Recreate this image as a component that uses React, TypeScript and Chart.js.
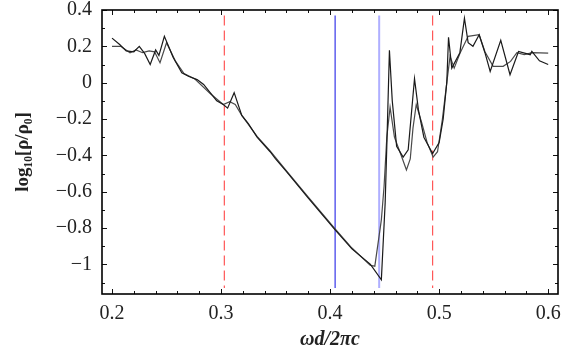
import React, { useEffect, useRef } from "react";
import { Chart, registerables } from "chart.js";

Chart.register(...registerables);

// Curve A (darker trace)
const aX = [0.2, 0.207, 0.213, 0.22, 0.225, 0.23, 0.235, 0.24, 0.243, 0.248, 0.256, 0.264, 0.27, 0.278, 0.284, 0.29, 0.296, 0.302, 0.306, 0.312, 0.319, 0.325, 0.333, 0.345, 0.35, 0.36, 0.38, 0.4046, 0.42, 0.437, 0.447, 0.4505, 0.452, 0.4544, 0.457, 0.461, 0.467, 0.4716, 0.4774, 0.481, 0.486, 0.494, 0.5, 0.5037, 0.507, 0.5086, 0.5116, 0.519, 0.5232, 0.5266, 0.531, 0.5367, 0.542, 0.5468, 0.5565, 0.565, 0.5728, 0.5835, 0.585, 0.592, 0.6];
const aY = [0.245, 0.21, 0.175, 0.17, 0.2, 0.16, 0.1, 0.18, 0.15, 0.255, 0.14, 0.055, 0.035, 0.017, -0.01, -0.055, -0.1, -0.12, -0.14, -0.055, -0.18, -0.225, -0.3, -0.38, -0.42, -0.49, -0.635, -0.81, -0.915, -1.0, -1.085, -0.66, -0.35, 0.178, -0.1, -0.35, -0.41, -0.37, 0.022, -0.15, -0.3, -0.39, -0.33, -0.2, 0.0, 0.25, 0.08, 0.165, 0.355, 0.22, 0.2, 0.264, 0.165, 0.062, 0.233, 0.044, 0.172, 0.154, 0.172, 0.12, 0.1];

// Curve B (lighter trace)
const bX = [0.2, 0.208, 0.2165, 0.222, 0.228, 0.234, 0.239, 0.244, 0.25, 0.258, 0.266, 0.276, 0.29, 0.302, 0.308, 0.313, 0.319, 0.333, 0.345, 0.36, 0.38, 0.4046, 0.42, 0.4367, 0.441, 0.447, 0.4495, 0.452, 0.455, 0.459, 0.4658, 0.47, 0.4735, 0.476, 0.479, 0.484, 0.489, 0.4945, 0.4985, 0.503, 0.507, 0.51, 0.5138, 0.519, 0.5266, 0.5367, 0.542, 0.5495, 0.5587, 0.5655, 0.5713, 0.578, 0.5855, 0.6];
const bY = [0.2, 0.2, 0.165, 0.18, 0.165, 0.175, 0.17, 0.11, 0.22, 0.12, 0.05, 0.02, -0.06, -0.12, -0.105, -0.12, -0.18, -0.295, -0.375, -0.485, -0.63, -0.805, -0.91, -1.005, -1.01, -0.755, -0.57, -0.3, -0.135, -0.3, -0.41, -0.48, -0.42, -0.25, -0.12, -0.22, -0.33, -0.41, -0.38, -0.2, 0.0, 0.145, 0.08, 0.16, 0.255, 0.264, 0.17, 0.09, 0.09, 0.117, 0.165, 0.154, 0.165, 0.163];

// Vertical markers
const redLines = [0.303, 0.494];
const blueLine = 0.4046;
const lightBlueLine = 0.445;
const markerYRange = [0.37, -1.13];

// Axis ticks
const xTicks = [0.2, 0.3, 0.4, 0.5, 0.6];
const yTicks = [-1, -0.8, -0.6, -0.4, -0.2, 0, 0.2, 0.4];
const xRange = [0.1908, 0.609];
const yRange = [-1.163, 0.4];

const xMinorStep = 0.02;
const yMinorStep = 0.1;

const SERIF = "'Times New Roman', 'Liberation Serif', Times, serif";

function fmt(v: number): string {
  const r = Math.round(v * 10) / 10;
  if (r === 0) return "0";
  const s = Math.abs(r).toString();
  return (r < 0 ? "\u2212" : "") + s;
}

const frameTicks = {
  id: "frameTicks",
  afterDraw(chart: any) {
    const { ctx, chartArea: a, scales } = chart;
    const xs = scales.x;
    const ys = scales.y;
    ctx.save();
    ctx.strokeStyle = "#111";
    ctx.lineWidth = 1;
    const major = 5;
    const minor = 3;
    for (let v = 0.2; v <= 0.6001; v += xMinorStep) {
      const px = Math.round(xs.getPixelForValue(v)) + 0.5;
      const isMajor = Math.abs(v * 10 - Math.round(v * 10)) < 1e-6;
      const len = isMajor ? major : minor;
      ctx.beginPath();
      ctx.moveTo(px, a.bottom);
      ctx.lineTo(px, a.bottom - len);
      ctx.moveTo(px, a.top);
      ctx.lineTo(px, a.top + len);
      ctx.stroke();
    }
    for (let v = -1.1; v <= 0.4001; v += yMinorStep) {
      const py = Math.round(ys.getPixelForValue(v)) + 0.5;
      const isMajor = Math.abs(v * 5 - Math.round(v * 5)) < 1e-6;
      const len = isMajor ? major : minor;
      ctx.beginPath();
      ctx.moveTo(a.left, py);
      ctx.lineTo(a.left + len, py);
      ctx.moveTo(a.right, py);
      ctx.lineTo(a.right - len, py);
      ctx.stroke();
    }
    ctx.lineWidth = 1.6;
    ctx.strokeStyle = "#000";
    ctx.strokeRect(a.left, a.top, a.right - a.left, a.bottom - a.top);
    ctx.restore();
  },
};

export default function App() {
  const ref = useRef<HTMLCanvasElement | null>(null);

  useEffect(() => {
    document.body.style.margin = "0";
    const canvas = ref.current;
    if (!canvas) return;

    const vertical = (x: number, color: string, width: number, dash: number[]) => ({
      data: [
        { x, y: markerYRange[0] },
        { x, y: markerYRange[1] },
      ],
      borderColor: color,
      borderWidth: width,
      borderDash: dash,
      pointRadius: 0,
      order: 2,
    });

    const chart = new Chart(canvas, {
      type: "line",
      data: {
        datasets: [
          {
            data: aX.map((x, i) => ({ x, y: aY[i] })),
            borderColor: "#1a1a1a",
            borderWidth: 1.2,
            pointRadius: 0,
            tension: 0,
            order: 0,
          },
          {
            data: bX.map((x, i) => ({ x, y: bY[i] })),
            borderColor: "#4a4a4a",
            borderWidth: 1.2,
            pointRadius: 0,
            tension: 0,
            order: 1,
          },
          ...redLines.map((x) => vertical(x, "rgba(255,70,70,0.9)", 1.2, [10, 5])),
          vertical(blueLine, "rgb(70,70,235)", 1.3, []),
          vertical(lightBlueLine, "rgb(175,175,255)", 2, []),
        ] as any,
      },
      options: {
        animation: false,
        responsive: false,
        parsing: false as any,
        normalized: true,
        layout: { padding: { left: 0, right: 26, top: 10, bottom: 0 } },
        plugins: { legend: { display: false }, tooltip: { enabled: false } },
        scales: {
          x: {
            type: "linear",
            min: xRange[0],
            max: xRange[1],
            grid: { display: false, drawTicks: false },
            border: { display: false },
            afterBuildTicks: (s: any) => {
              s.ticks = xTicks.map((v) => ({ value: v }));
            },
            afterFit: (s: any) => {
              s.height = 66;
              s.paddingLeft = 0;
              s.paddingRight = 0;
            },
            ticks: {
              autoSkip: false,
              maxRotation: 0,
              padding: 8,
              color: "#222",
              font: { family: SERIF, size: 20 },
              callback: (v: any) => fmt(Number(v)),
            },
            title: {
              display: true,
              text: "\u03c9d/2\u03c0c",
              color: "#222",
              padding: { top: 2, bottom: 8 },
              font: { family: SERIF, size: 20, style: "italic", weight: "bold" },
            },
          },
          y: {
            type: "linear",
            min: yRange[0],
            max: yRange[1],
            grid: { display: false, drawTicks: false },
            border: { display: false },
            afterBuildTicks: (s: any) => {
              s.ticks = yTicks.map((v) => ({ value: v }));
            },
            afterFit: (s: any) => {
              s.width = 102;
              s.paddingTop = 0;
              s.paddingBottom = 0;
            },
            ticks: {
              autoSkip: false,
              padding: 10,
              color: "#222",
              font: { family: SERIF, size: 20 },
              callback: (v: any) => fmt(Number(v)),
            },
            title: {
              display: true,
              text: "log\u2081\u2080[\u03c1/\u03c1\u2080]",
              color: "#222",
              padding: { top: 12, bottom: 0 },
              font: { family: SERIF, size: 19, weight: "bold" },
            },
          },
        },
      },
      plugins: [frameTicks],
    });

    return () => chart.destroy();
  }, []);

  return (
    <div style={{ position: "absolute", left: 0, top: 0, width: 584, height: 360, background: "#fff" }}>
      <canvas ref={ref} width={584} height={360} />
    </div>
  );
}
